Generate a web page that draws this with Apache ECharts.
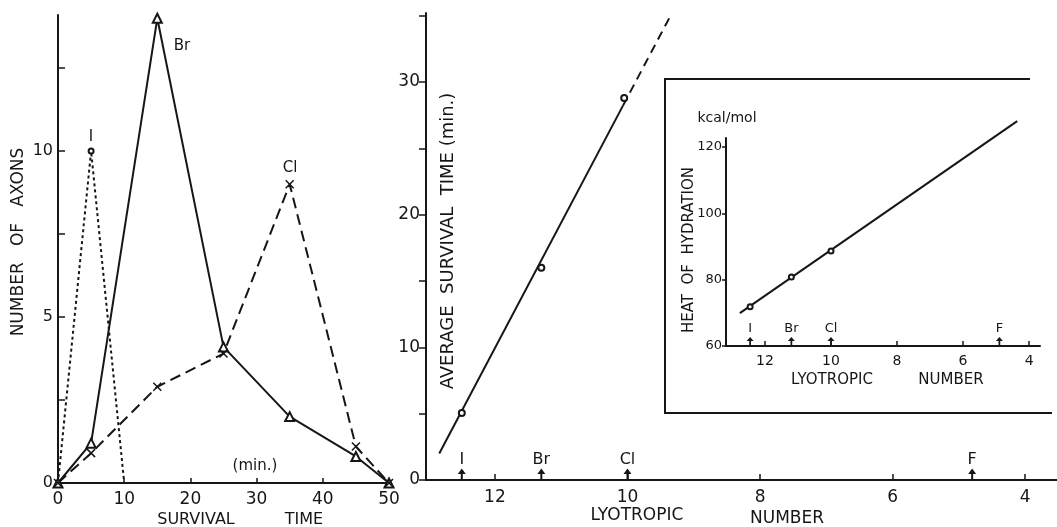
<!DOCTYPE html>
<html>
<head>
<meta charset="utf-8">
<script src="https://cdn.jsdelivr.net/npm/echarts@6/dist/echarts.min.js"></script>
<style>
html,body{margin:0;padding:0;background:#fff;}
#chart{width:1057px;height:527px;}
</style>
</head>
<body>
<div id="chart"></div>
<script>
// ---------- Left panel: number of axons vs survival time ----------
var survivalTime = [0, 5, 15, 25, 35, 45, 50];
var brCounts = [0, 1.2, 14, 4.1, 2.0, 0.8, 0];
var clCounts = [0, 0.9, 2.9, 3.9, 9.0, 1.1, 0];
var iTime = [0, 5, 10];
var iCounts = [0, 10, 0];
var leftXTicks = [0, 10, 20, 30, 40, 50];
var leftYTicks = [0, 2.5, 5, 7.5, 10, 12.5];
var leftYLabels = [0, 5, 10];

// ---------- Middle panel: average survival time vs lyotropic number ----------
var ionNames = ['I', 'Br', 'Cl', 'F'];
var ionLyotropic = [12.5, 11.3, 10.0, 4.8];
var avgLyotropic = [12.5, 11.3, 10.05];
var avgSurvival = [5.05, 16.0, 28.8];
var fitSolidX = [12.84, 10.07];
var fitSolidY = [2.0, 28.2];
var fitDashX = [10.07, 9.35];
var fitDashY = [28.2, 35.0];
var mainXTicks = [4, 6, 8, 10, 12];
var mainYTicks = [0, 5, 10, 15, 20, 25, 30, 35];
var mainYLabels = [0, 10, 20, 30];

// ---------- Inset: heat of hydration vs lyotropic number ----------
var insetIonLyotropic = [12.45, 11.2, 10.0, 4.9];
var heatLyotropic = [12.45, 11.2, 10.0, 5.05];
var heatValues = [71.8, 80.8, 88.6, 123.3];
var heatFitX = [12.76, 4.36];
var heatFitY = [69.9, 127.8];
var insetXTicks = [4, 6, 8, 10, 12];
var insetYTicks = [60, 80, 100, 120];

function pairs(xs, ys) { return xs.map(function (x, i) { return [x, ys[i]]; }); }

var INK = '#161616';
var FONT = '"DejaVu Sans", sans-serif';

function axisCommon(extra) {
  var base = {
    type: 'value',
    splitLine: { show: false },
    axisLine: { show: true, onZero: false, lineStyle: { color: INK, width: 2 } },
    axisTick: { show: true, lineStyle: { color: INK, width: 1.5 } },
    axisLabel: { color: INK, fontFamily: FONT }
  };
  for (var k in extra) {
    if (typeof extra[k] === 'object' && !Array.isArray(extra[k]) && base[k]) {
      base[k] = Object.assign({}, base[k], extra[k]);
    } else base[k] = extra[k];
  }
  return base;
}

var arrowPath = 'path://M4,0 L8,6 L5,6 L5,12 L3,12 L3,6 L0,6 Z';

var chart = echarts.init(document.getElementById('chart'), null, { renderer: 'canvas' });

function txt(text, x, y, size, rot, align) {
  return {
    type: 'text', x: x, y: y, rotation: rot || 0, z: 10,
    style: {
      text: text, x: 0, y: 0, fill: INK,
      font: size + 'px ' + FONT,
      textAlign: align || 'center', textVerticalAlign: 'middle'
    }
  };
}

var option = {
  animation: false,
  backgroundColor: '#fff',
  grid: [
    { left: 58, top: 15, width: 331, height: 468 },
    { left: 426, top: 13, width: 631, height: 467 },
    { left: 726, top: 138, width: 314, height: 208 }
  ],
  xAxis: [
    axisCommon({
      gridIndex: 0, min: 0, max: 50,
      axisTick: { inside: true, length: 5, customValues: leftXTicks },
      axisLabel: { fontSize: 17, margin: 8, customValues: leftXTicks }
    }),
    axisCommon({
      gridIndex: 1, min: 3.52, max: 13.04, inverse: true,
      axisTick: { inside: true, length: 6, customValues: mainXTicks },
      axisLabel: { fontSize: 17, margin: 9, customValues: mainXTicks }
    }),
    axisCommon({
      gridIndex: 2, min: 3.67, max: 13.18, inverse: true,
      axisTick: { inside: true, length: 5, customValues: insetXTicks },
      axisLabel: { fontSize: 14, margin: 8, customValues: insetXTicks }
    })
  ],
  yAxis: [
    axisCommon({
      gridIndex: 0, min: 0, max: 14.1,
      axisTick: { inside: true, length: 7, customValues: leftYTicks },
      axisLabel: { fontSize: 16, margin: 5, customValues: leftYLabels }
    }),
    axisCommon({
      gridIndex: 1, min: 0, max: 35.2,
      axisTick: { inside: false, length: 7, customValues: mainYTicks },
      axisLabel: { fontSize: 17, margin: 6, customValues: mainYLabels }
    }),
    axisCommon({
      gridIndex: 2, min: 60, max: 122.7,
      axisTick: { inside: false, length: 4, customValues: insetYTicks },
      axisLabel: { fontSize: 13, margin: 4, customValues: insetYTicks }
    })
  ],
  series: [
    // left panel
    {
      type: 'line', xAxisIndex: 0, yAxisIndex: 0, data: pairs(iTime, iCounts),
      symbol: function (v) { return v[1] > 0 ? 'emptyCircle' : 'none'; }, symbolSize: 5,
      lineStyle: { color: INK, width: 2, type: [3, 3] },
      itemStyle: { color: INK, borderWidth: 1.5 }
    },
    {
      type: 'line', xAxisIndex: 0, yAxisIndex: 0, data: pairs(survivalTime, brCounts),
      symbol: 'emptyTriangle', symbolSize: 9,
      lineStyle: { color: INK, width: 2 },
      itemStyle: { color: INK, borderWidth: 1.5 }
    },
    {
      type: 'line', xAxisIndex: 0, yAxisIndex: 0, data: pairs(survivalTime, clCounts),
      symbol: 'path://M0,0L10,10M10,0L0,10', symbolSize: 8,
      lineStyle: { color: INK, width: 2, type: [11, 6] },
      itemStyle: { color: INK, borderColor: INK, borderWidth: 1.5 }
    },
    // middle panel
    {
      type: 'line', xAxisIndex: 1, yAxisIndex: 1, data: pairs(fitSolidX, fitSolidY),
      symbol: 'none', lineStyle: { color: INK, width: 2 }
    },
    {
      type: 'line', xAxisIndex: 1, yAxisIndex: 1, data: pairs(fitDashX, fitDashY),
      symbol: 'none', lineStyle: { color: INK, width: 2, type: [9, 6] }
    },
    {
      type: 'scatter', xAxisIndex: 1, yAxisIndex: 1, data: pairs(avgLyotropic, avgSurvival),
      symbol: 'emptyCircle', symbolSize: 6, z: 5,
      itemStyle: { color: INK, borderColor: INK, borderWidth: 1.5, opacity: 1 }
    },
    {
      type: 'scatter', xAxisIndex: 1, yAxisIndex: 1,
      data: ionLyotropic.map(function (x, i) { return { value: [x, 0], name: ionNames[i] }; }),
      symbol: arrowPath, symbolSize: [8, 11], symbolOffset: [0, -6],
      itemStyle: { color: INK, opacity: 1 },
      label: { show: true, position: 'top', distance: 1, formatter: '{b}', color: INK, opacity: 1, fontSize: 16, fontFamily: FONT }
    },
    // inset
    {
      type: 'line', xAxisIndex: 2, yAxisIndex: 2, data: pairs(heatFitX, heatFitY),
      symbol: 'none', clip: false, lineStyle: { color: INK, width: 2 }
    },
    {
      type: 'scatter', xAxisIndex: 2, yAxisIndex: 2, data: pairs(heatLyotropic, heatValues),
      symbol: 'emptyCircle', symbolSize: 5, z: 5,
      itemStyle: { color: INK, borderColor: INK, borderWidth: 1.2, opacity: 1 }
    },
    {
      type: 'scatter', xAxisIndex: 2, yAxisIndex: 2,
      data: insetIonLyotropic.map(function (x, i) { return { value: [x, 60], name: ionNames[i] }; }),
      symbol: arrowPath, symbolSize: [7, 8], symbolOffset: [0, -5],
      itemStyle: { color: INK, opacity: 1 },
      label: { show: true, position: 'top', distance: 2, formatter: '{b}', color: INK, opacity: 1, fontSize: 13, fontFamily: FONT }
    }
  ],
  graphic: [
    // left panel texts
    txt('NUMBER   OF   AXONS', 19, 242, 17, Math.PI / 2),
    txt('SURVIVAL', 196, 520, 16),
    txt('TIME', 304, 520, 16),
    txt('(min.)', 255, 466, 15),
    txt('I', 91, 137, 15),
    txt('Br', 182, 46, 15),
    txt('Cl', 290, 168, 15),
    // middle panel texts
    txt('AVERAGE  SURVIVAL  TIME (min.)', 448, 241, 18, Math.PI / 2),
    txt('LYOTROPIC', 637, 516, 17),
    txt('NUMBER', 787, 519, 17),
    // inset texts
    txt('kcal/mol', 727, 118, 14),
    txt('HEAT  OF  HYDRATION', 689, 250, 15, Math.PI / 2),
    txt('LYOTROPIC', 832, 380, 15),
    txt('NUMBER', 951, 380, 15),
    {
      type: 'polyline', z: 1,
      shape: { points: [[1030, 79], [665, 79], [665, 413], [1052, 413]] },
      style: { stroke: INK, lineWidth: 2, fill: null }
    }
  ]
};
chart.setOption(option);
</script>
</body>
</html>
